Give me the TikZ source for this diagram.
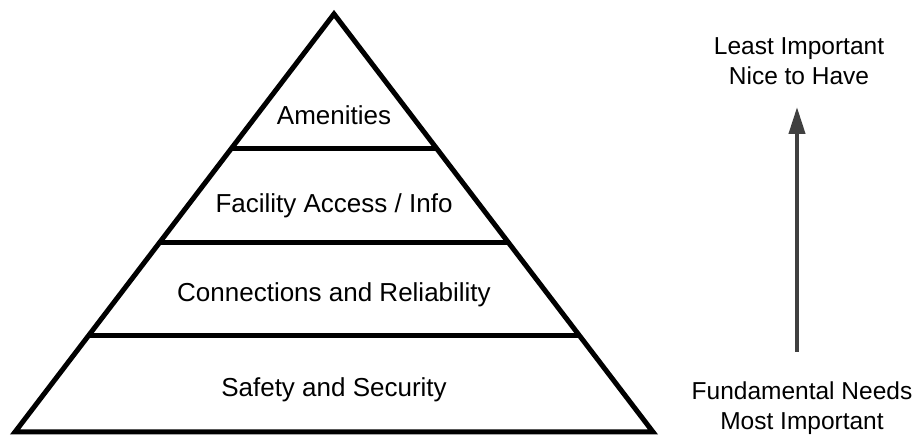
\documentclass[tikz,border=0pt]{standalone}
\usepackage{fontspec}
\setmainfont{Liberation Sans}
\usetikzlibrary{calc,arrows.meta}
\tikzset{line/.style={draw, line width=4bp, black!75, -{Triangle[length=27bp, width=16bp]}}}

\begin{document}
\begin{tikzpicture}[x=1bp, y=1bp]
\tikzstyle{edge} = [draw, line width=5bp, black]
\tikzstyle{level} = [font=\fontsize{26bp}{30bp}\selectfont, anchor=base, inner sep=0pt]
\tikzstyle{side} = [font=\fontsize{24.5bp}{30bp}\selectfont, align=center, anchor=base, inner sep=0pt]

\useasboundingbox (0,0) rectangle (917,435);

% pyramid
\coordinate (top) at (334,421);
\coordinate (bl) at (15,3);
\coordinate (br) at (653,3);
\draw [edge] (top) -- (bl) -- (br) -- cycle;

% dividers
\draw [edge] ($(top)!0.3206!(bl)$) -- ($(top)!0.3206!(br)$);
\draw [edge] ($(top)!0.5478!(bl)$) -- ($(top)!0.5478!(br)$);
\draw [edge] ($(top)!0.7703!(bl)$) -- ($(top)!0.7703!(br)$);

% levels
\node [level] (amen) at (334,310) {Amenities};
\node [level] (fac) at (334,222) {Facility Access / Info};
\node [level] (conn) at (334,133) {Connections and Reliability};
\node [level] (safe) at (334,38) {Safety and Security};

% importance scale (base = last line)
\node [side] (least) at (799,350) {Least Important\\Nice to Have};
\node [side] (fund) at (802,5) {Fundamental Needs\\Most Important};
\coordinate (a0) at (797,83);
\coordinate (a1) at (797,328);
\draw [line] (a0) -- (a1);

\end{tikzpicture}
\end{document}
